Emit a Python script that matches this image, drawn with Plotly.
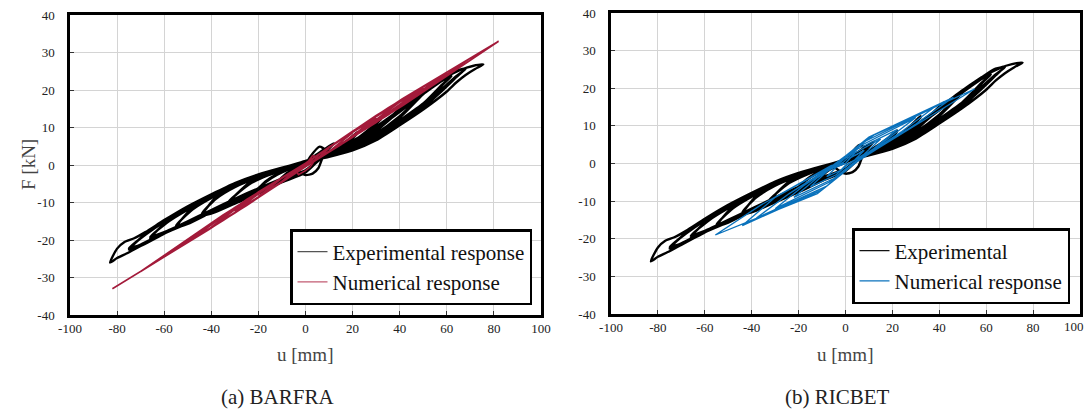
import plotly.graph_objects as go

# ---------------- data ----------------
# Experimental response (same test in both panels): cycles of growing amplitude
exp_u = [0, 2, 6, 8.3, 7, 5.5, 3, 0, -3, -5, -3, 0,
         # cycle +12 / -12
         4, 8, 12, 9, 5, 0, -4, -8, -12, -9, -5, 0,
         # cycle +22 / -22 (two repetitions)
         5, 10, 15, 22, 18, 12, 6, 0, -6, -12, -17, -22, -18, -12, -6, 0,
         5, 10, 15, 22, 18, 12, 6, 0, -6, -12, -17, -22, -18, -12, -6, 0,
         # cycle +32 / -33
         6, 12, 20, 26, 32, 28, 22, 14, 7, 0, -8, -16, -24, -33, -28, -20, -12, -5, 0,
         6, 12, 20, 26, 32, 28, 22, 14, 7, 0, -8, -16, -24, -33, -28, -20, -12, -5, 0,
         # cycle +42 / -44
         6, 14, 24, 34, 42, 37, 30, 20, 10, 0, -10, -20, -30, -38, -44, -38, -30, -20, -10, 0,
         6, 14, 24, 34, 42, 37, 30, 20, 10, 0, -10, -20, -30, -38, -44, -38, -30, -20, -10, 0,
         # cycle +52 / -55
         8, 18, 28, 38, 46, 52, 47, 40, 30, 20, 10, 0, -10, -20, -30, -40, -48, -55, -50, -40, -30, -20, -10, 0,
         8, 18, 28, 38, 46, 52, 47, 40, 30, 20, 10, 0, -10, -20, -30, -40, -48, -55, -50, -40, -30, -20, -10, 0,
         # cycle +62 / -66
         8, 18, 28, 38, 48, 56, 62, 58, 50, 40, 30, 20, 10, 0, -10, -20, -30, -40, -50, -58, -66,
         -60, -50, -40, -30, -20, -10, 0,
         8, 18, 28, 38, 48, 56, 62, 58, 50, 40, 30, 20, 10, 0, -10, -20, -30, -40, -50, -58, -66,
         -60, -50, -40, -30, -20, -10, 0,
         # cycle +68 / -75
         8, 18, 28, 38, 48, 58, 64, 68, 64, 58, 50, 40, 30, 20, 10, 0, -10, -20, -30, -40, -50, -60, -68, -75,
         -70, -60, -50, -40, -30, -20, -10, 0,
         8, 18, 28, 38, 48, 58, 64, 68, 64, 58, 50, 40, 30, 20, 10, 0, -10, -20, -30, -40, -50, -60, -68, -75,
         -70, -60, -50, -40, -30, -20, -10, 0,
         # cycle +75.5 / -83
         8, 18, 28, 38, 48, 58, 66, 71, 75.5, 72, 68, 64, 60, 50, 40, 30, 20, 10, 0,
         -10, -20, -30, -40, -50, -60, -68, -73, -77, -80, -83,
         -80, -76, -70, -60, -50, -40, -30, -20, -10, 0]
exp_F = [0, 2.2, 4.9, 4.0, 1.6, -0.8, -2.3, -2.7, -1.8, -0.6, 0.3, 0.8,
         2.5, 4.2, 5.8, 3.8, 2.0, 0.2, -0.8, -2.2, -4.6, -4.0, -3.0, -1.6,
         1.2, 3.2, 5.0, 8.8, 6.2, 3.6, 1.8, 0.3, -0.7, -2.4, -4.4, -7.8, -7.0, -5.0, -3.1, -1.6,
         1.4, 3.4, 5.3, 8.4, 6.0, 3.8, 2.0, 0.5, -0.9, -2.6, -4.6, -7.4, -6.6, -4.7, -2.8, -1.4,
         1.6, 3.6, 6.0, 9.0, 12.6, 10.0, 6.5, 3.8, 2.0, 0.5, -0.9, -2.6, -4.8, -10.4, -9.6, -7.2, -5.0, -3.0, -1.8,
         1.8, 3.8, 6.2, 9.0, 12.2, 9.8, 6.6, 4.0, 2.2, 0.6, -1.0, -2.8, -5.2, -10.0, -9.2, -6.8, -4.6, -2.7, -1.6,
         1.8, 4.4, 7.6, 11.6, 16.3, 13.0, 9.0, 5.2, 2.8, 0.6, -1.0, -3.0, -5.5, -8.6, -13.5, -12.5, -10.3, -7.6, -4.6, -2.0,
         2.0, 4.6, 7.8, 11.8, 15.8, 12.8, 9.2, 5.6, 3.0, 0.8, -1.2, -3.3, -5.9, -9.0, -13.0, -12.0, -9.8, -7.2, -4.3, -1.8,
         2.4, 5.2, 8.8, 13.4, 17.6, 20.4, 17.0, 12.6, 8.0, 4.8, 2.6, 0.8, -0.9, -2.8, -5.2, -8.4, -11.4, -16.6, -15.7, -12.6, -9.6, -6.8, -4.2, -2.0,
         2.6, 5.4, 9.0, 13.4, 17.4, 20.0, 17.2, 13.0, 8.4, 5.1, 2.8, 0.9, -1.1, -3.1, -5.6, -8.8, -11.9, -16.2, -15.3, -12.2, -9.2, -6.5, -4.0, -1.9,
         2.6, 5.4, 8.9, 13.2, 18.0, 21.6, 24.0, 21.2, 16.0, 11.5, 7.2, 4.5, 2.5, 1.0, -0.8, -2.7, -5.0, -8.2, -11.6, -14.6, -19.6,
         -18.2, -15.4, -12.4, -9.4, -6.6, -3.9, -1.8,
         2.8, 5.6, 9.2, 13.5, 18.3, 21.8, 23.6, 21.4, 16.4, 11.9, 7.6, 4.8, 2.7, 1.1, -0.9, -2.9, -5.3, -8.5, -11.9, -15.0, -19.2,
         -17.9, -15.0, -12.0, -9.1, -6.3, -3.7, -1.7,
         2.7, 5.5, 9.0, 13.4, 18.2, 22.6, 25.0, 25.8, 23.4, 19.8, 15.4, 11.2, 7.0, 4.2, 2.4, 1.0, -0.8, -2.6, -4.9, -8.0, -11.3, -14.9, -18.4, -22.6,
         -21.6, -18.3, -15.4, -12.3, -9.3, -6.5, -3.8, -1.6,
         2.9, 5.8, 9.4, 13.8, 18.6, 22.9, 25.2, 25.6, 23.7, 20.3, 15.9, 11.6, 7.4, 4.5, 2.6, 1.1, -0.9, -2.8, -5.2, -8.3, -11.6, -15.2, -18.6, -22.2,
         -21.2, -18.0, -15.1, -12.0, -9.0, -6.2, -3.6, -1.5,
         2.8, 5.6, 9.2, 13.6, 18.2, 22.8, 25.4, 26.4, 26.8, 25.6, 24.0, 22.0, 19.6, 14.8, 10.6, 6.6, 3.9, 2.2, 0.9,
         -0.7, -2.5, -4.8, -7.8, -11.0, -14.7, -17.9, -19.6, -20.6, -22.3, -26.0,
         -24.8, -23.6, -21.6, -18.3, -15.6, -12.6, -9.5, -6.6, -3.8, -1.5]

# Numerical response, BARFRA (red)
bar_u = [0, 3, 5, 2, 0, -3, -4, 0,
         5, 10, 5, 0, -5, -10, -5, 0,
         10, 20, 10, 0, -10, -20, -10, 0,
         15, 30, 15, 0, -15, -30, -15, 0,
         20, 40, 20, 0, -20, -40, -20, 0,
         25, 50, 25, 0, -25, -50, -25, 0,
         30, 60, 30, 0, -30, -60, -30, 0,
         35, 70, 35, 0, -35, -70, -35, 0,
         41, 82, 41, 0, -41, -82]
bar_F = [0, 2.5, 2.2, -0.5, -1.5, -2.6, -1.5, 0,
         2.6, 4.4, 1.8, -0.2, -2.4, -4.3, -1.8, 0.2,
         4.8, 8.6, 3.6, -0.3, -4.6, -8.4, -3.5, 0.4,
         6.8, 12.6, 5.4, -0.4, -6.6, -12.4, -5.4, 0.5,
         9.0, 16.8, 7.4, -0.5, -8.7, -16.6, -7.2, 0.5,
         11.0, 20.6, 9.4, -0.4, -10.8, -20.5, -9.2, 0.5,
         13.2, 24.6, 11.3, -0.4, -12.8, -24.4, -11.3, 0.5,
         15.2, 28.5, 13.3, -0.3, -14.8, -28.4, -13.3, 0.4,
         17.6, 33.0, 15.7, -0.2, -17.2, -33.0]

# Numerical response, RICBET (blue)
ric_u = [0, 2, 8, 4, 0, -2, -8, -4, 0,
         4, 15, 8, 1, -4, -15, -8, -1,
         5, 22, 12, 2, -5, -22, -12, -2,
         6, 30, 18, 3, -7, -30, -18, -3,
         8, 38, 24, 4, -8, -38, -24, -4,
         10, 46, 30, 5, -10, -44, -30, -5,
         12, 55, 36, 6, -12, -55.5, -36, -6, 0]
ric_F = [0, 1.5, 3.5, 1.0, -0.5, -1.8, -3.5, -1.0, 0,
         2.8, 6.5, 2.5, -0.3, -3.0, -6.2, -2.2, 0.3,
         3.8, 9.0, 4.0, -0.5, -4.0, -9.0, -3.8, 0.4,
         4.6, 12.2, 6.5, 0.0, -5.0, -12.0, -6.0, 0.2,
         5.8, 15.0, 8.5, 0.3, -6.0, -14.5, -8.0, 0.0,
         7.0, 17.6, 10.5, 0.5, -7.0, -16.5, -9.0, -0.3,
         7.5, 19.8, 12.5, 1.0, -8.0, -19.0, -11.0, -0.5, 0]

x_ticks = [-100, -80, -60, -40, -20, 0, 20, 40, 60, 80, 100]
x_tick_labels = ["-100", "-80", "-60", "-40", "-20", "0", "20", "40", "60", "80", "100"]
y_ticks = [-40, -30, -20, -10, 0, 10, 20, 30, 40]
y_tick_labels = ["-40", "-30", "-20", "-10", "0", "10", "20", "30", "40"]

FONT = "Liberation Serif"
BLACK = "#000000"
RED = "#A31A3A"
BLUE = "#0A72BC"

fig = go.Figure()

exp_line = dict(color=BLACK, width=2.4, shape="spline", smoothing=0.6)
# data traces (legend samples are drawn by thin legend-only entries below)
fig.add_trace(go.Scatter(x=exp_u, y=exp_F, mode="lines", line=exp_line,
                         xaxis="x", yaxis="y", showlegend=False))
fig.add_trace(go.Scatter(x=bar_u, y=bar_F, mode="lines", line=dict(color=RED, width=1.6),
                         xaxis="x", yaxis="y", showlegend=False))
fig.add_trace(go.Scatter(x=exp_u, y=exp_F, mode="lines", line=exp_line,
                         xaxis="x2", yaxis="y2", showlegend=False))
fig.add_trace(go.Scatter(x=ric_u, y=ric_F, mode="lines", line=dict(color=BLUE, width=1.3),
                         xaxis="x2", yaxis="y2", showlegend=False))

legend_entries = [
    ("Experimental response", "#555555", "x", "y", "legend"),
    ("Numerical response", "#C25B72", "x", "y", "legend"),
    ("Experimental", "#111111", "x2", "y2", "legend2"),
    ("Numerical response", BLUE, "x2", "y2", "legend2"),
]
for name, col, xa_, ya_, lg in legend_entries:
    fig.add_trace(go.Scatter(x=[None], y=[None], mode="lines", name=name,
                             line=dict(color=col, width=1.2),
                             xaxis=xa_, yaxis=ya_, legend=lg, showlegend=True))

axis_common = dict(showline=True, linewidth=2.5, linecolor=BLACK, mirror=True,
                   showgrid=True, gridcolor="#d4d4d4", gridwidth=1, zeroline=False,
                   ticks="inside", ticklen=4, tickcolor="#333", tickwidth=1,
                   tickfont=dict(family=FONT, size=13, color="#222"), automargin=False)

xa = dict(axis_common, range=[-100, 100], tickmode="array", tickvals=x_ticks,
          ticktext=x_tick_labels, ticklabelstandoff=0)
ya = dict(axis_common, range=[-40, 40], tickmode="array", tickvals=y_ticks,
          ticktext=y_tick_labels, ticklabelstandoff=10)

legend_common = dict(bgcolor="white", bordercolor=BLACK, borderwidth=2.5,
                     font=dict(family=FONT, size=21, color="#111"),
                     xanchor="right", yanchor="bottom", tracegroupgap=0,
                     itemwidth=30)

fig.update_layout(
    width=1088, height=414,
    margin=dict(l=0, r=0, t=0, b=0, autoexpand=False),
    paper_bgcolor="white", plot_bgcolor="white",
    font=dict(family=FONT),
    xaxis=dict(xa, domain=[70 / 1088, 541 / 1088], anchor="y"),
    yaxis=dict(ya, domain=[99 / 414, 399 / 414], anchor="x"),
    xaxis2=dict(xa, domain=[611 / 1088, 1080 / 1088], anchor="y2"),
    yaxis2=dict(ya, domain=[100 / 414, 401 / 414], anchor="x2"),
    legend=dict(legend_common, x=532 / 1088, y=(414 - 305) / 414),
    legend2=dict(legend_common, x=1070 / 1088, y=(414 - 304) / 414),
    showlegend=True,
)

ann = [
    dict(text="u [mm]", x=305 / 1088, y=(414 - 354) / 414),
    dict(text="u [mm]", x=845 / 1088, y=(414 - 354) / 414),
    dict(text="F [kN]", x=28 / 1088, y=(414 - 165) / 414, textangle=-90),
    dict(text="(a) BARFRA", x=277 / 1088, y=(414 - 397) / 414, size=21, color="#222"),
    dict(text="(b) RICBET", x=837 / 1088, y=(414 - 397) / 414, size=21, color="#222"),
]
for a in ann:
    fig.add_annotation(text=a["text"], x=a["x"], y=a["y"], xref="paper", yref="paper",
                       xanchor="center", yanchor="middle", showarrow=False,
                       textangle=a.get("textangle", 0),
                       font=dict(family=FONT, size=a.get("size", 19), color=a.get("color", "#444")))

# last x tick label of the right panel sits at the page edge
fig.add_annotation(text=x_tick_labels[-1], x=1086 / 1088, y=(414 - 326) / 414,
                   xref="paper", yref="paper",
                   xanchor="right", yanchor="middle", showarrow=False,
                   font=dict(family=FONT, size=13, color="#222"))

fig.write_html("out.html", config={"displayModeBar": False},
               post_script="document.body.style.margin='0';document.body.style.overflow='hidden';")
